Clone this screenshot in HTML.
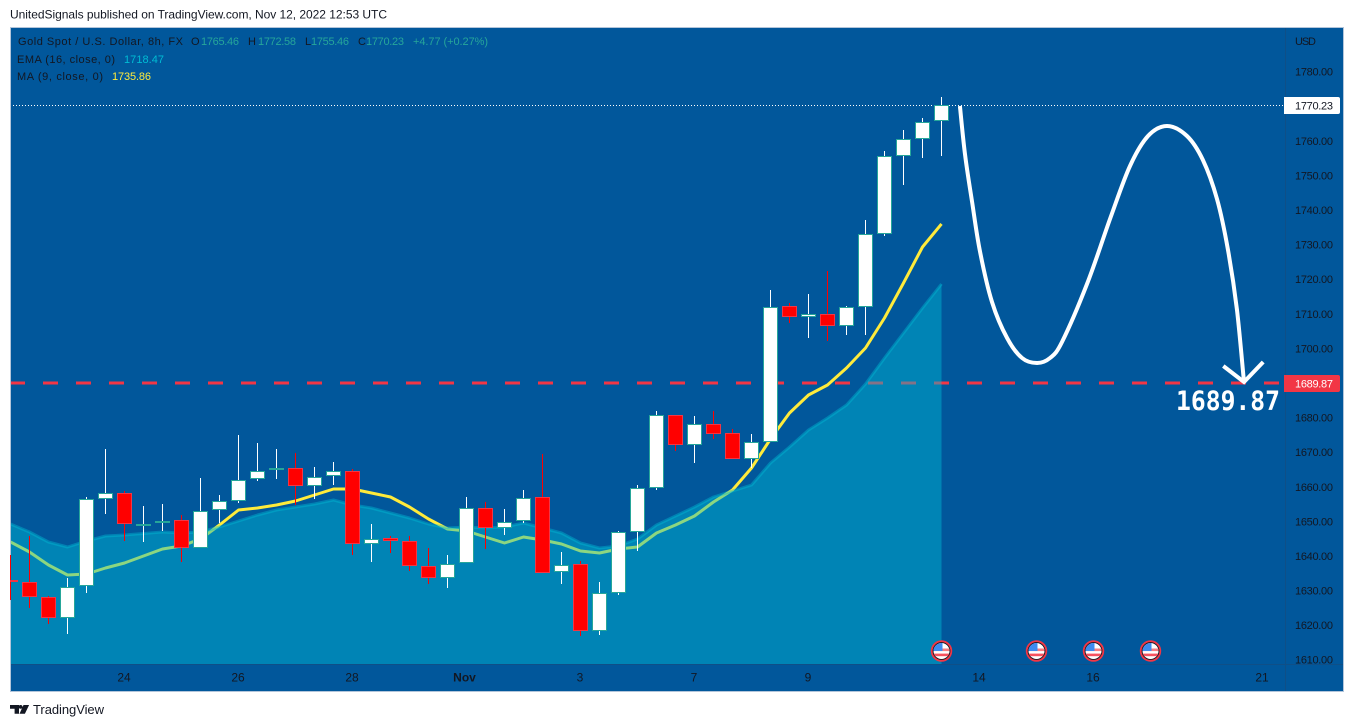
<!DOCTYPE html>
<html lang="en">
<head>
<meta charset="utf-8">
<title>Gold Spot / U.S. Dollar chart</title>
<style>
html,body{margin:0;padding:0;background:#fff;width:1354px;height:727px;overflow:hidden}
svg{display:block;font-family:"Liberation Sans",Arial,sans-serif}
</style>
</head>
<body>
<svg id="chart" xmlns="http://www.w3.org/2000/svg" width="1354" height="727" viewBox="0 0 1354 727">
  <defs>
    <clipPath id="plot-clip"><rect x="10" y="27" width="1275" height="637"/></clipPath>
    <clipPath id="flag-clip"><circle cx="0" cy="0" r="8"/></clipPath>
  </defs>
  <text x="10" y="18.5" font-size="12" fill="#131722" textLength="377" lengthAdjust="spacing">UnitedSignals published on TradingView.com, Nov 12, 2022 12:53 UTC</text>
  <rect x="10" y="27" width="1334" height="665" fill="#01579b"/>
  <g id="under-area" clip-path="url(#plot-clip)"></g>
  <g id="area-layer" clip-path="url(#plot-clip)"></g>
  <rect x="10.5" y="27.5" width="1333" height="664" fill="none" stroke="#b3c5da" stroke-width="1"/>
  <g id="candle-layer" clip-path="url(#plot-clip)"></g>
  <g id="drawing-layer"></g>
  <line x1="1285.5" y1="28" x2="1285.5" y2="691" stroke="#0f4f87" stroke-width="1"/>
  <line x1="11" y1="664.5" x2="1343" y2="664.5" stroke="#0f4f87" stroke-width="1"/>
  <g id="flag-layer"></g>
  <g id="price-axis"></g>
  <g id="time-axis"></g>
  <g font-size="11">
    <text x="18" y="45" fill="#131722" textLength="165">Gold Spot / U.S. Dollar, 8h, FX</text>
    <text x="191" y="45" fill="#131722">O</text>
    <text x="201" y="45" fill="#26a69a" textLength="38">1765.46</text>
    <text x="248" y="45" fill="#131722">H</text>
    <text x="258" y="45" fill="#26a69a" textLength="38">1772.58</text>
    <text x="305" y="45" fill="#131722">L</text>
    <text x="311" y="45" fill="#26a69a" textLength="38">1755.46</text>
    <text x="358" y="45" fill="#131722">C</text>
    <text x="366" y="45" fill="#26a69a" textLength="38">1770.23</text>
    <text x="413" y="45" fill="#26a69a" textLength="75">+4.77 (+0.27%)</text>
    <text x="17" y="63" fill="#131722" textLength="98">EMA (16, close, 0)</text>
    <text x="124" y="63" fill="#00bcd4" textLength="40">1718.47</text>
    <text x="17" y="80" fill="#131722" textLength="86">MA (9, close, 0)</text>
    <text x="112" y="80" fill="#ffeb3b" textLength="39">1735.86</text>
  </g>
  <g fill="#131722">
    <path d="M10 705h9v8.7h-4.4v-4.9H10zM23.5 705h5.6l-4.2 8.7h-5.4zM20.6 705a1.9 1.9 0 1 1 0 3.8 1.9 1.9 0 0 1 0-3.8z"/>
    <text x="33" y="714" font-size="13" textLength="71">TradingView</text>
  </g>
</svg>
<script>
const opens = [1632.90,1632.32,1627.99,1621.92,1631.17,1656.32,1658.05,1649.09,1649.38,1650.25,1642.15,1653.14,1655.74,1662.10,1664.70,1665.28,1660.08,1662.97,1664.41,1643.31,1645.04,1644.18,1636.95,1633.48,1637.82,1653.72,1647.94,1649.96,1656.90,1635.21,1637.53,1618.16,1629.14,1646.78,1659.50,1680.60,1671.93,1678.00,1675.40,1667.88,1672.80,1712.12,1708.94,1709.80,1706.33,1711.83,1732.93,1755.48,1760.40,1765.46];
const highs = [1640.13,1645.62,1628.28,1633.48,1656.90,1670.77,1658.63,1654.30,1654.87,1651.69,1662.39,1657.48,1674.82,1672.51,1670.77,1669.62,1665.57,1667.02,1664.99,1649.09,1645.62,1645.62,1642.15,1640.13,1656.90,1655.45,1653.43,1658.92,1669.33,1641.00,1638.39,1632.32,1647.07,1660.37,1681.76,1680.60,1680.31,1681.76,1676.56,1675.11,1716.74,1712.98,1715.58,1722.23,1712.12,1736.98,1756.93,1762.95,1766.47,1772.58];
const lows = [1627.12,1624.81,1620.18,1617.29,1629.14,1651.98,1644.18,1643.89,1647.07,1638.11,1642.15,1649.38,1655.16,1661.52,1662.10,1654.58,1656.32,1660.37,1640.13,1638.11,1640.71,1635.50,1631.75,1630.59,1637.82,1641.86,1645.91,1649.38,1634.93,1631.75,1616.71,1617.00,1628.57,1641.28,1658.92,1670.20,1666.73,1673.67,1667.88,1665.28,1672.80,1707.20,1702.86,1702.00,1703.73,1703.73,1732.35,1747.10,1754.90,1755.46];
const closes = [1632.61,1627.99,1621.92,1630.88,1656.32,1658.05,1649.09,1649.09,1649.96,1642.15,1652.85,1655.74,1661.81,1664.41,1665.28,1660.08,1662.68,1664.41,1643.31,1644.76,1644.18,1636.95,1633.48,1637.53,1653.72,1647.94,1649.67,1656.61,1634.93,1637.24,1618.16,1629.14,1646.78,1659.50,1680.60,1671.93,1678.00,1675.11,1667.88,1672.80,1711.83,1708.94,1709.80,1706.33,1711.83,1732.93,1755.48,1760.40,1765.31,1770.23];
const emaValues = [1649.09,1646.78,1643.89,1642.44,1644.18,1645.62,1645.91,1646.35,1646.78,1646.49,1646.78,1648.22,1649.96,1651.69,1653.14,1654.01,1654.87,1656.03,1654.58,1653.72,1652.27,1650.83,1649.09,1647.94,1648.22,1647.94,1648.22,1649.38,1647.94,1646.49,1643.60,1642.15,1642.73,1644.76,1648.80,1651.40,1654.01,1656.90,1658.63,1660.37,1666.73,1671.35,1676.27,1679.74,1683.49,1689.57,1697.08,1704.31,1711.54,1718.47];
const maValues = [1643.89,1641.00,1637.24,1634.35,1634.64,1636.37,1637.82,1639.84,1641.86,1642.73,1644.76,1648.80,1653.14,1653.72,1654.58,1655.74,1657.48,1659.21,1659.21,1658.05,1656.90,1654.01,1650.54,1647.65,1647.07,1645.33,1643.60,1645.33,1644.47,1643.31,1641.28,1640.71,1641.86,1642.44,1646.49,1648.80,1651.40,1655.45,1658.92,1665.28,1673.67,1681.18,1686.39,1689.28,1694.19,1699.97,1708.65,1718.76,1729.17,1735.86];
const priceTicks = [1780,1770,1760,1750,1740,1730,1720,1710,1700,1690,1680,1670,1660,1650,1640,1630,1620,1610];
const timeTickBars = [6,12,18,24,30,36,42,51,57,66];
const timeTickLabels = ["24","26","28","Nov","3","7","9","14","16","21"];
const eventBars = [49,54,57,60];
const lastPrice = 1770.23;
const supportPrice = 1689.87;
const forecastBars = [49.97,50.24,50.61,51.03,51.66,52.45,53.24,54.03,54.71,55.34,56.66,57.87,58.92,59.87,60.87,61.92,62.76,63.50,64.08,64.55,64.92];
const forecastPrices = [1769.94,1755.77,1742.18,1727.73,1713.27,1702.86,1697.08,1695.64,1697.08,1701.71,1718.48,1737.27,1752.59,1761.26,1764.15,1761.26,1754.32,1743.05,1728.30,1710.96,1690.14];
const arrowBars = [63.83,64.92,65.93];
const arrowPrices = [1694.77,1690.14,1695.93];

const NS = "http://www.w3.org/2000/svg";
function xAt(i){ return 10.5 + 19 * i; }
function yAt(p){ return 71.2 + (1780 - p) * 3.4591; }
function make(tag, attrs, parent){
  const e = document.createElementNS(NS, tag);
  for (const k in attrs) e.setAttribute(k, attrs[k]);
  parent.appendChild(e);
  return e;
}
function polyPath(vals){
  return vals.map((v,i)=>(i?"L":"M")+xAt(i)+" "+yAt(v).toFixed(1)).join(" ");
}
function smoothPath(xs, ys){
  let d = "M"+xs[0].toFixed(1)+" "+ys[0].toFixed(1);
  for (let i=0;i<xs.length-1;i++){
    const a=Math.max(i-1,0), b=i, c=i+1, e=Math.min(i+2,xs.length-1);
    const c1x=xs[b]+(xs[c]-xs[a])/6, c1y=ys[b]+(ys[c]-ys[a])/6;
    const c2x=xs[c]-(xs[e]-xs[b])/6, c2y=ys[c]-(ys[e]-ys[b])/6;
    d+=" C"+c1x.toFixed(1)+" "+c1y.toFixed(1)+" "+c2x.toFixed(1)+" "+c2y.toFixed(1)+" "+xs[c].toFixed(1)+" "+ys[c].toFixed(1);
  }
  return d;
}

/* lines below the translucent EMA area */
const under = document.getElementById("under-area");
const supportLine = make("line",{x1:10,x2:1285,y1:yAt(supportPrice).toFixed(1),y2:yAt(supportPrice).toFixed(1),stroke:"#f23645","stroke-width":3,"stroke-dasharray":"15 18"},under);


const lastLine = make("line",{x1:10,x2:1285,y1:Math.round(yAt(lastPrice))+0.5,y2:Math.round(yAt(lastPrice))+0.5,stroke:"#ffffff","stroke-width":1,"stroke-dasharray":"1 2"},under);


const maLine = make("path",{d:polyPath(maValues),fill:"none",stroke:"#ffeb3b","stroke-width":3,"stroke-linejoin":"round"},under);



/* EMA area */
const areaLayer = document.getElementById("area-layer");
const areaFill = make("path",{d:polyPath(emaValues)+" L"+xAt(emaValues.length-1)+" 664 L"+xAt(0)+" 664 Z",fill:"#00bcd4","fill-opacity":0.45},areaLayer);


const areaLine = make("path",{d:polyPath(emaValues),fill:"none",stroke:"#00bcd4","stroke-opacity":0.42,"stroke-width":3,"stroke-linejoin":"round"},areaLayer);



/* candles */
const candleLayer = document.getElementById("candle-layer");
opens.forEach((o,i)=>{
  const c = closes[i], up = c >= o;
  const g = make("g",{},candleLayer);
  
  
  const cx = xAt(i);
  const wick = make("line",{x1:cx,x2:cx,y1:Math.round(yAt(highs[i])),y2:Math.round(yAt(lows[i])),stroke:up?"#ffffff":"#ff0000","stroke-width":1,"shape-rendering":"crispEdges"},g);
  
  
  const top = Math.round(yAt(Math.max(o,c))) + 0.5;
  const bottom = Math.max(Math.round(yAt(Math.min(o,c))) - 0.5, top + 1);
  const body = make("rect",{x:cx-7,y:top,width:14,height:bottom-top,fill:up?"#ffffff":"#ff0000",stroke:up?"#26a69a":"#f23645","stroke-width":1,"shape-rendering":"crispEdges"},g);
  
  
});

/* hand-drawn forecast */
const drawing = document.getElementById("drawing-layer");
const fx = forecastBars.map(xAt), fy = forecastPrices.map(yAt);
const forecast = make("path",{d:smoothPath(fx,fy),fill:"none",stroke:"#ffffff","stroke-width":4,"stroke-linecap":"butt"},drawing);


const arrow = make("path",{d:arrowBars.map((b,i)=>(i?"L":"M")+xAt(b).toFixed(1)+" "+yAt(arrowPrices[i]).toFixed(1)).join(" "),fill:"none",stroke:"#ffffff","stroke-width":4,"stroke-linejoin":"miter"},drawing);


const bigLabel = make("text",{x:1176,y:410,fill:"#ffffff","font-size":27,"font-weight":"bold","font-family":"'DejaVu Sans Mono','Liberation Mono',monospace",textLength:104,lengthAdjust:"spacingAndGlyphs"},drawing);
bigLabel.textContent = "1689.87";



/* event flags */
const flagLayer = document.getElementById("flag-layer");
eventBars.forEach(b=>{
  const g = make("g",{transform:"translate("+xAt(b)+" 651)"},flagLayer);
  
  
  make("circle",{r:9.8,fill:"#131722",stroke:"#f23645","stroke-width":1.8},g);
  const inner = make("g",{"clip-path":"url(#flag-clip)"},g);
  make("rect",{x:-8,y:-8,width:16,height:16,fill:"#ffffff"},inner);
  make("rect",{x:-8,y:-2.5,width:16,height:2.6,fill:"#f77c80"},inner);
  make("rect",{x:-8,y:2.6,width:16,height:2.6,fill:"#f7525f"},inner);
  make("rect",{x:-8,y:-8,width:9,height:8,fill:"#3d8bf0"},inner);
});

/* price axis */
const pAxis = document.getElementById("price-axis");
const usd = make("text",{x:1295,y:45,"font-size":11,fill:"#131722",textLength:21},pAxis);
usd.textContent = "USD";


priceTicks.forEach(p=>{
  if (p === 1770 || p === 1690) return;
  const t = make("text",{x:1295,y:(yAt(p)+4.5).toFixed(1),"font-size":11,fill:"#131722",textLength:38},pAxis);
  t.textContent = p.toFixed(2);
  
  
});
const lastBox = make("path",{d:"M1284 "+(Math.round(yAt(lastPrice))-8)+"h54a2 2 0 0 1 2 2v13a2 2 0 0 1-2 2h-54z",fill:"#ffffff"},pAxis);


const lastText = make("text",{x:1295,y:(yAt(lastPrice)+4.5).toFixed(1),"font-size":11,fill:"#131722",textLength:38},pAxis);
lastText.textContent = lastPrice.toFixed(2);


const supBox = make("path",{d:"M1284 "+(Math.round(yAt(supportPrice))-8)+"h54a2 2 0 0 1 2 2v13a2 2 0 0 1-2 2h-54z",fill:"#f23645"},pAxis);


const supText = make("text",{x:1295,y:(yAt(supportPrice)+4.5).toFixed(1),"font-size":11,fill:"#ffffff",textLength:38},pAxis);
supText.textContent = supportPrice.toFixed(2);



/* time axis */
const tAxis = document.getElementById("time-axis");
timeTickBars.forEach((b,i)=>{
  const label = timeTickLabels[i];
  const t = make("text",{x:xAt(b)-(label==="21"?2:0)-(label==="Nov"?1.5:0)-0.5,y:681.5,"font-size":12,fill:"#131722","text-anchor":"middle","font-weight":label==="Nov"?"bold":"normal"},tAxis);
  t.textContent = label;
  
  
});
</script>
</body>
</html>
